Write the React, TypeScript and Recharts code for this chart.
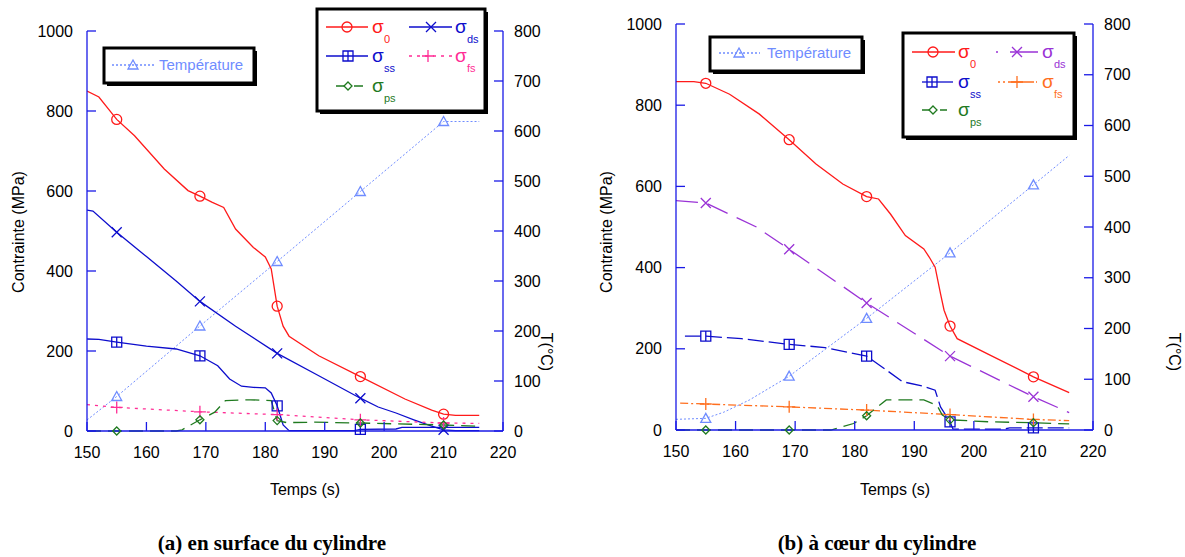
import React from 'react';
import { ComposedChart, Line, XAxis, YAxis } from 'recharts';

const FONT = '"Liberation Sans", Arial, Helvetica, sans-serif';
const SERIF = '"Liberation Serif", "Times New Roman", serif';
const AXIS_BLUE = '#1a1ae6';

const RED = '#ff1a1a';
const BLUE = '#0d0dcc';
const PINK = '#ff2d95';
const GREEN = '#1f7a1f';
const LIGHT = '#6f8cff';
const PURPLE = '#9a33d6';
const ORANGE = '#ff6f1f';

const timeTicks = [150, 160, 170, 180, 190, 200, 210, 220];
const stressTicks = [0, 200, 400, 600, 800, 1000];
const tempTicks = [0, 100, 200, 300, 400, 500, 600, 700, 800];
const markTimes = [155, 169, 182, 196, 210];

// (a) en surface du cylindre : [temps, valeur]
const sigma0A = [[150, 850], [152, 835], [155, 779], [158, 738], [163, 655], [167, 601], [169, 587], [171, 572], [173, 559], [175, 505], [178, 459], [180, 435], [181, 405], [182, 312], [183, 262], [184, 237], [189, 188], [196, 136], [203.5, 80], [208, 52], [210, 42], [212, 39], [216, 39]];
const sigmaDsA = [[150, 552], [151, 550], [155, 497], [160, 436], [165, 375], [169, 324], [175, 262], [182, 194], [189, 138], [196, 82], [199, 60], [202, 45], [205, 28], [208, 12], [210, 3], [212, 1], [216, 1]];
const sigmaSsA = [[150, 230], [152, 229], [155, 222], [160, 212], [165, 205], [169, 188], [172, 163], [174, 130], [176, 112], [178, 109], [180, 108], [181, 95], [182, 63], [183, 15], [184, 1], [195, 1], [196, 4], [202, 5], [203, 9], [216, 9]];
const sigmaFsA = [[150, 66], [155, 59], [169, 48], [182, 41], [196, 28], [210, 20], [216, 19]];
const sigmaPsA = [[150, 0], [155, 0], [165, 0], [166, 3], [169, 28], [171.5, 47], [173.3, 76], [177.5, 78], [181, 76], [182, 26], [183.6, 21], [188, 22], [196, 20], [210, 15], [216, 12]];
const tempA = [[150, 22], [155, 69], [169, 210], [182, 339], [196, 479], [210, 619], [216, 619]];

// (b) à cœur du cylindre
const sigma0B = [[150, 858], [153, 858], [155, 854], [159, 827], [164, 778], [169, 715], [173.5, 655], [178, 606], [182, 575], [184, 569], [186, 532], [188.5, 479], [191.6, 446], [192.5, 426], [193.5, 401], [194.4, 336], [195, 295], [196, 256], [197.2, 225], [202.8, 184], [210, 131], [216, 92]];
const sigmaDsB = [[150, 565], [155, 559], [163.5, 500], [169, 445], [182, 313], [196, 182], [210, 82], [216, 43]];
const sigmaSsB = [[151.5, 231], [155, 231], [161, 225], [169, 211], [175, 203], [182, 182], [185, 151], [188, 119], [191.5, 108], [193.5, 98], [194.4, 57], [196, 20], [196.5, 2], [205, 2], [206, 5], [210, 5], [216, 5]];
const sigmaFsB = [[150.7, 66], [155, 64], [169, 57], [182, 49], [196, 38], [210, 26], [216, 23]];
const sigmaPsB = [[150, 0], [155, 0], [169, 0], [176, 0], [179.8, 16], [182, 35], [183.8, 57], [185.3, 74], [191.6, 74], [193.8, 61], [194.7, 37], [196, 25], [202.8, 20], [210, 18], [216, 15]];
const tempB = [[150, 21], [155, 23], [158, 35], [162.3, 59], [169, 106], [182, 220], [196, 349], [210, 483], [216, 541]];

type Series = { key: string; pts: number[][]; color: string; dash?: string; shape: string; axis: 's' | 'T'; w?: number };

const seriesA: Series[] = [
  { key: 'temp', pts: tempA, color: LIGHT, dash: '2 2', shape: 'triangle', axis: 'T', w: 1 },
  { key: 's0', pts: sigma0A, color: RED, shape: 'circle', axis: 's' },
  { key: 'sds', pts: sigmaDsA, color: BLUE, shape: 'cross', axis: 's' },
  { key: 'sss', pts: sigmaSsA, color: BLUE, shape: 'square', axis: 's' },
  { key: 'sfs', pts: sigmaFsA, color: PINK, dash: '3 5', shape: 'plus', axis: 's' },
  { key: 'sps', pts: sigmaPsA, color: GREEN, dash: '14 7', shape: 'diamond', axis: 's' },
];

const seriesB: Series[] = [
  { key: 'temp', pts: tempB, color: LIGHT, dash: '2 2', shape: 'triangle', axis: 'T', w: 1 },
  { key: 's0', pts: sigma0B, color: RED, shape: 'circle', axis: 's' },
  { key: 'sds', pts: sigmaDsB, color: PURPLE, dash: '22 10', shape: 'cross', axis: 's' },
  { key: 'sss', pts: sigmaSsB, color: BLUE, dash: '16 5', shape: 'square', axis: 's' },
  { key: 'sfs', pts: sigmaFsB, color: ORANGE, dash: '8 3 2 3', shape: 'plus', axis: 's' },
  { key: 'sps', pts: sigmaPsB, color: GREEN, dash: '14 7', shape: 'diamond', axis: 's' },
];

const toData = (pts: number[][]) => pts.map(([t, v]) => ({ t, v }));

function MarkerShape({ shape, x, y, color }: { shape: string; x: number; y: number; color: string }) {
  const common = { fill: 'none', stroke: color, strokeWidth: 1.3 };
  switch (shape) {
    case 'circle':
      return <circle cx={x} cy={y} r={5} {...common} />;
    case 'cross':
      return <path d={`M${x - 5},${y - 5}L${x + 5},${y + 5}M${x - 5},${y + 5}L${x + 5},${y - 5}`} {...common} />;
    case 'square':
      return <path d={`M${x - 5},${y - 5}h10v10h-10zM${x},${y - 5}v10`} {...common} />;
    case 'plus':
      return <path d={`M${x - 6},${y}h12M${x},${y - 6}v12`} {...common} />;
    case 'diamond':
      return <path d={`M${x},${y - 4}L${x + 4},${y}L${x},${y + 4}L${x - 4},${y}Z`} {...common} />;
    case 'triangle':
      return <path d={`M${x},${y - 5}L${x + 5},${y + 4}L${x - 5},${y + 4}Z`} {...common} />;
  }
  return null;
}

const markerDot = (shape: string, color: string) => (p: any) => {
  const { cx, cy, payload, index } = p;
  if (cx == null || cy == null || !markTimes.includes(payload.t)) return <g key={`m${index}`} />;
  return (
    <g key={`m${index}`}>
      <MarkerShape shape={shape} x={cx} y={cy} color={color} />
    </g>
  );
};

type PanelProps = {
  left: number;
  width: number;
  height: number;
  plotLeft: number;
  plotRight: number;
  plotTop: number;
  plotBottom: number;
  series: Series[];
};

function Panel({ left, width, height, plotLeft, plotRight, plotTop, plotBottom, series }: PanelProps) {
  const tick = { fill: '#000', fontSize: 16, fontFamily: FONT };
  const axisLine = { stroke: AXIS_BLUE, strokeWidth: 1.3 };
  return (
    <div style={{ position: 'absolute', left, top: 0 }}>
      <ComposedChart width={width} height={height} margin={{ top: plotTop, right: 0, bottom: 0, left: 0 }}>
        <XAxis
          xAxisId="b"
          dataKey="t"
          type="number"
          domain={[150, 220]}
          ticks={timeTicks}
          interval={0}
          allowDataOverflow
          height={height - plotBottom}
          tickSize={-9}
          tickMargin={25}
          axisLine={axisLine}
          tickLine={axisLine}
          tick={tick}
        />
        <XAxis
          xAxisId="top"
          orientation="top"
          dataKey="t"
          type="number"
          domain={[150, 220]}
          ticks={timeTicks}
          interval={0}
          height={0}
          tickSize={-9}
          tickFormatter={() => ''}
          axisLine={axisLine}
          tickLine={axisLine}
        />
        <YAxis
          yAxisId="s"
          type="number"
          domain={[0, 1000]}
          ticks={stressTicks}
          interval={0}
          width={plotLeft}
          tickSize={-9}
          tickMargin={23}
          axisLine={axisLine}
          tickLine={axisLine}
          tick={tick}
        />
        <YAxis
          yAxisId="T"
          orientation="right"
          type="number"
          domain={[0, 800]}
          ticks={tempTicks}
          interval={0}
          width={width - plotRight}
          tickSize={-9}
          tickMargin={20}
          axisLine={axisLine}
          tickLine={axisLine}
          tick={tick}
        />
        {series.map((s) => (
          <Line
            key={s.key}
            xAxisId="b"
            yAxisId={s.axis}
            data={toData(s.pts)}
            dataKey="v"
            type="linear"
            stroke={s.color}
            strokeWidth={s.w ?? 1.3}
            strokeDasharray={s.dash}
            dot={markerDot(s.shape, s.color)}
            activeDot={false}
            isAnimationActive={false}
          />
        ))}
      </ComposedChart>
    </div>
  );
}

function Sigma({ x, y, sub, color }: { x: number; y: number; sub: string; color: string }) {
  return (
    <g fontFamily={FONT} fill={color}>
      <text x={x} y={y + 6} fontSize={19}>σ</text>
      <text x={x + 12} y={y + 16} fontSize={11}>{sub}</text>
    </g>
  );
}

function LegendSample({ x1, x2, y, color, dash, shape, mx }: { x1: number; x2: number; y: number; color: string; dash?: string; shape: string; mx: number }) {
  return (
    <g>
      <line x1={x1} x2={x2} y1={y} y2={y} stroke={color} strokeWidth={1.3} strokeDasharray={dash} />
      <MarkerShape shape={shape} x={mx} y={y} color={color} />
    </g>
  );
}

function Box({ x, y, w, h }: { x: number; y: number; w: number; h: number }) {
  return (
    <g>
      <rect x={x + 3} y={y + 3} width={w} height={h} fill="#000" />
      <rect x={x} y={y} width={w} height={h} fill="#fff" stroke="#000" strokeWidth={3} />
    </g>
  );
}

function Overlay() {
  return (
    <svg width={1185} height={557} style={{ position: 'absolute', left: 0, top: 0, pointerEvents: 'none' }}>
      {/* titres des axes */}
      <g fontFamily={FONT} fontSize={16} fill="#000" textAnchor="middle">
        <text transform="translate(24,232) rotate(-90)">Contrainte (MPa)</text>
        <text x={305} y={495}>Temps (s)</text>
        <text transform="translate(541,352) rotate(90)">T(°C)</text>
        <text transform="translate(612,232) rotate(-90)">Contrainte (MPa)</text>
        <text x={895} y={495}>Temps (s)</text>
        <text transform="translate(1169,352) rotate(90)">T(°C)</text>
      </g>

      {/* légendes (a) */}
      <Box x={104} y={48} w={150} h={35} />
      <LegendSample x1={112} x2={154} y={65} color={LIGHT} dash="2 2" shape="triangle" mx={133} />
      <text x={159} y={70} fontFamily={FONT} fontSize={15} fill={LIGHT}>Température</text>

      <Box x={317} y={9} w={168} h={102} />
      <LegendSample x1={326} x2={368} y={27} color={RED} shape="circle" mx={347} />
      <Sigma x={372} y={27} sub="0" color={RED} />
      <LegendSample x1={409} x2={452} y={27} color={BLUE} shape="cross" mx={431} />
      <Sigma x={455} y={27} sub="ds" color={BLUE} />
      <LegendSample x1={326} x2={368} y={56} color={BLUE} shape="square" mx={348} />
      <Sigma x={372} y={56} sub="ss" color={BLUE} />
      <LegendSample x1={409} x2={452} y={56} color={PINK} dash="3 5" shape="plus" mx={428} />
      <Sigma x={455} y={56} sub="fs" color={PINK} />
      <LegendSample x1={336} x2={367} y={86} color={GREEN} dash="9 9" shape="diamond" mx={348} />
      <Sigma x={372} y={86} sub="ps" color={GREEN} />

      {/* légendes (b) */}
      <Box x={710} y={37} w={152} h={34} />
      <LegendSample x1={719} x2={760} y={53} color={LIGHT} dash="2 2" shape="triangle" mx={739} />
      <text x={767} y={58} fontFamily={FONT} fontSize={15} fill={LIGHT}>Température</text>

      <Box x={903} y={33} w={171} h={104} />
      <LegendSample x1={912} x2={955} y={52} color={RED} shape="circle" mx={933} />
      <Sigma x={958} y={52} sub="0" color={RED} />
      <LegendSample x1={996} x2={1038} y={52} color={PURPLE} dash="2 12 30" shape="cross" mx={1017} />
      <Sigma x={1042} y={52} sub="ds" color={PURPLE} />
      <LegendSample x1={922} x2={953} y={82} color={BLUE} shape="square" mx={932} />
      <Sigma x={958} y={82} sub="ss" color={BLUE} />
      <LegendSample x1={998} x2={1037} y={82} color={ORANGE} dash="2 3 2 3 26" shape="plus" mx={1017} />
      <Sigma x={1042} y={82} sub="fs" color={ORANGE} />
      <LegendSample x1={922} x2={953} y={110} color={GREEN} dash="7 11" shape="diamond" mx={933} />
      <Sigma x={958} y={110} sub="ps" color={GREEN} />

      {/* légendes sous les graphiques */}
      <g fontFamily={SERIF} fontSize={21} fontWeight="bold" fill="#000" textAnchor="middle">
        <text x={272} y={550}>(a) en surface du cylindre</text>
        <text x={877} y={550}>(b) à cœur du cylindre</text>
      </g>
    </svg>
  );
}

export default function App() {
  return (
    <div style={{ position: 'absolute', left: 0, top: 0, width: 1185, height: 557, background: '#fff' }}>
      <Panel left={0} width={560} height={510} plotLeft={87} plotRight={503} plotTop={31} plotBottom={431} series={seriesA} />
      <Panel left={600} width={585} height={510} plotLeft={76} plotRight={493} plotTop={24} plotBottom={430} series={seriesB} />
      <Overlay />
    </div>
  );
}
